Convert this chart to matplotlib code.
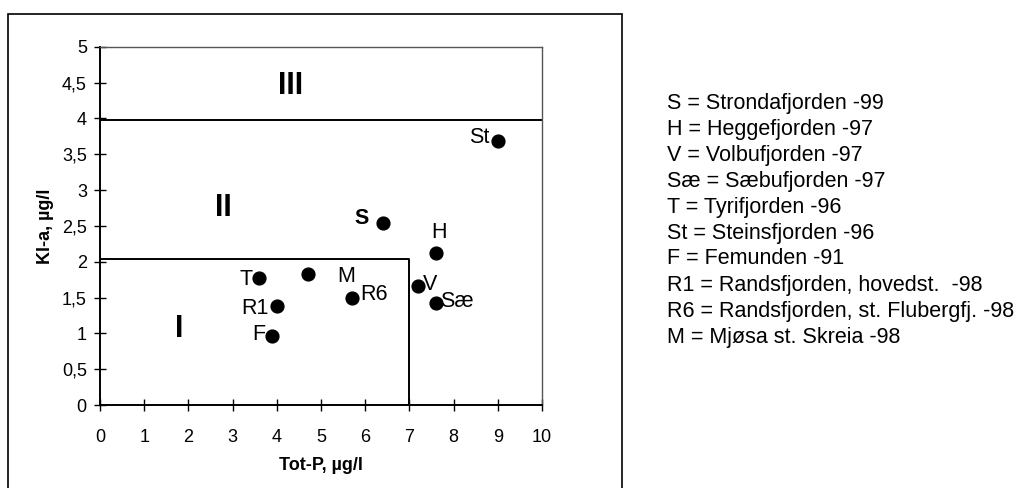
import matplotlib
matplotlib.use('Agg')
import matplotlib.pyplot as plt
from matplotlib.patches import Rectangle
from matplotlib.ticker import FuncFormatter

plt.rcParams['font.family'] = ['Liberation Sans', 'DejaVu Sans']

# Lakes: Tot-P (µg/l) vs Kl-a (µg/l)
codes = ['St', 'S', 'H', 'T', 'M', 'R6', 'R1', 'F', 'V', 'Sæ']
tot_p = [9.0, 6.4, 7.6, 3.6, 4.7, 5.7, 4.0, 3.9, 7.2, 7.6]
kl_a = [3.68, 2.54, 2.12, 1.77, 1.83, 1.50, 1.38, 0.97, 1.66, 1.43]

# label offsets in points and alignment per point
label_pos = {
    'St': (-6, 3, 'right', 'center', False),
    'S': (-10, 3, 'right', 'center', True),
    'H': (2, 7, 'center', 'bottom', False),
    'T': (-5, -1, 'right', 'center', False),
    'M': (21, -2, 'left', 'center', False),
    'R6': (6, 2, 'left', 'center', False),
    'R1': (-6, -2, 'right', 'center', False),
    'F': (-5, 1, 'right', 'center', False),
    'V': (3, 1, 'left', 'center', False),
    'Sæ': (3, 1, 'left', 'center', False),
}

legend_lines = [
    'S = Strondafjorden -99',
    'H = Heggefjorden -97',
    'V = Volbufjorden -97',
    'Sæ = Sæbufjorden -97',
    'T = Tyrifjorden -96',
    'St = Steinsfjorden -96',
    'F = Femunden -91',
    'R1 = Randsfjorden, hovedst.  -98',
    'R6 = Randsfjorden, st. Flubergfj. -98',
    'M = Mjøsa st. Skreia -98',
]

# class boundaries
class_I_p = 7.0
class_I_kla = 2.04
class_III_kla = 3.98

fig = plt.figure(figsize=(10.24, 4.88), dpi=100)
ax = fig.add_axes([0.0977, 0.170, 0.4316, 0.734])

ax.set_xlim(0, 10)
ax.set_ylim(0, 5)
ax.set_xticks(range(0, 11))
ax.set_yticks([i * 0.5 for i in range(11)])
comma = FuncFormatter(lambda v, p: ('%g' % v).replace('.', ','))
ax.xaxis.set_major_formatter(comma)
ax.yaxis.set_major_formatter(comma)
ax.tick_params(direction='inout', length=9, width=1, labelsize=13, color='black')
ax.tick_params(axis='x', pad=13)
ax.tick_params(axis='y', pad=5)

for side in ['left', 'bottom']:
    ax.spines[side].set_linewidth(1.4)
for side in ['top', 'right']:
    ax.spines[side].set_linewidth(1.0)
    ax.spines[side].set_color('#555555')

# class lines
ax.plot([0, 10], [class_III_kla, class_III_kla], color='black', lw=1.4)
ax.plot([0, class_I_p, class_I_p], [class_I_kla, class_I_kla, 0], color='black', lw=1.4)

ax.text(4.3, 4.46, 'III', fontsize=22, fontweight='bold', ha='center', va='center')
ax.text(2.8, 2.75, 'II', fontsize=22, fontweight='bold', ha='center', va='center')
ax.text(1.8, 1.06, 'I', fontsize=22, fontweight='bold', ha='center', va='center')

ax.scatter(tot_p, kl_a, s=85, color='black', zorder=3, clip_on=False)
for c, x, y in zip(codes, tot_p, kl_a):
    dx, dy, ha, va, bold = label_pos[c]
    ax.annotate(c, (x, y), xytext=(dx, dy), textcoords='offset points',
                ha=ha, va=va, fontsize=15.5,
                fontweight='bold' if bold else 'normal')

ax.set_xlabel('Tot-P, µg/l', fontsize=13, fontweight='bold', labelpad=8)
ax.set_ylabel('Kl-a, µg/l', fontsize=13, fontweight='bold', labelpad=6)

# surrounding frame
fig.patches.append(Rectangle((8 / 1024, -0.05), (622 - 8) / 1024, 1.05 - 14 / 488,
                             transform=fig.transFigure, fill=False,
                             edgecolor='black', lw=1.2))

for i, line in enumerate(legend_lines):
    fig.text(667 / 1024, 1 - (103 + 26.0 * i) / 488, line,
             fontsize=15.5, ha='left', va='center')

fig.savefig('out.png', dpi=100)
